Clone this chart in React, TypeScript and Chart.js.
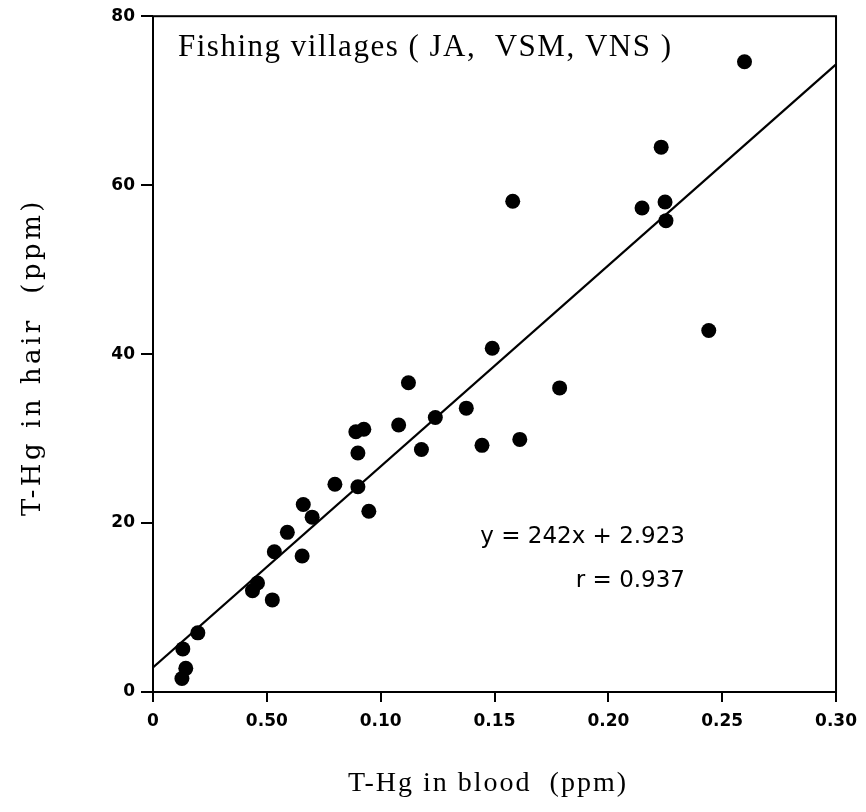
import React, { useEffect, useRef } from "react";
import { Chart, registerables } from "chart.js";

Chart.register(...registerables);

// T-Hg in blood (ppm) for each subject
const bloodHg = [
  0.0127, 0.0144, 0.0131, 0.0197, 0.0437, 0.0459, 0.0524, 0.0533, 0.059, 0.0655,
  0.066, 0.0699, 0.0799, 0.0891, 0.0926, 0.09, 0.09, 0.0948, 0.1079, 0.1122,
  0.1179, 0.124, 0.1376, 0.1445, 0.149, 0.158, 0.1611, 0.1786, 0.2148, 0.2232,
  0.2249, 0.2253, 0.2441, 0.2598,
];
// T-Hg in hair (ppm) for each subject
const hairHg = [
  1.6, 2.8, 5.1, 7.0, 12.0, 12.9, 10.9, 16.6, 18.9, 16.1,
  22.2, 20.7, 24.6, 30.8, 31.1, 28.3, 24.3, 21.4, 31.6, 36.6,
  28.7, 32.5, 33.6, 29.2, 40.7, 58.1, 29.9, 36.0, 57.3, 64.5,
  58.0, 55.8, 42.8, 74.6,
];
// regression line end points as drawn
const fitX = [0, 0.3];
const fitY = [2.9, 74.3];

const xTickLabels = ["0", "0.50", "0.10", "0.15", "0.20", "0.25", "0.30"];
const yTickStep = 20;

const panelLabel = "Fishing villages ( JA,  VSM, VNS )";
const eqLabel = "y = 242x + 2.923";
const rLabel = "r = 0.937";
const xTitle = "T-Hg in blood  (ppm)";
const yTitle = "T-Hg in hair  (ppm)";

const textPlugin = {
  id: "annotText",
  afterDraw(chart: any) {
    const { ctx, chartArea } = chart;
    const { left, top, right, bottom } = chartArea;
    ctx.save();
    // frame
    ctx.strokeStyle = "#000";
    ctx.lineWidth = 2;
    ctx.strokeRect(left, top, right - left, bottom - top);

    ctx.fillStyle = "#000";
    // panel label
    ctx.font = "31px 'Liberation Serif'";
    ctx.textAlign = "left";
    ctx.textBaseline = "alphabetic";
    (ctx as any).letterSpacing = "1.5px";
    ctx.fillText(panelLabel, left + 25, top + 40);

    // equation
    ctx.font = "23px 'DejaVu Sans'";
    (ctx as any).letterSpacing = "0px";
    ctx.textAlign = "right";
    ctx.fillText(eqLabel, left + 532, top + 527);
    ctx.fillText(rLabel, left + 532, top + 571);

    // x title
    ctx.font = "28px 'Liberation Serif'";
    (ctx as any).letterSpacing = "2px";
    ctx.textAlign = "center";
    ctx.fillText(xTitle, 488, 791);

    // y title
    ctx.save();
    ctx.translate(40, 357);
    ctx.rotate(-Math.PI / 2);
    ctx.font = "26px 'DejaVu Serif'";
    (ctx as any).letterSpacing = "3.5px";
    ctx.textAlign = "center";
    ctx.fillText(yTitle, 0, 0);
    ctx.restore();

    ctx.restore();
  },
};

export default function App() {
  const canvasRef = useRef<HTMLCanvasElement | null>(null);

  useEffect(() => {
    if (!canvasRef.current) return;
    const points = bloodHg.map((x, i) => ({ x, y: hairHg[i] }));
    const fit = fitX.map((x, i) => ({ x, y: fitY[i] }));
    const tickFont = { family: "'DejaVu Sans'", size: 17, weight: "bold" as const };
    const chart = new Chart(canvasRef.current, {
      type: "scatter",
      data: {
        datasets: [
          {
            data: fit,
            showLine: true,
            borderColor: "#000",
            borderWidth: 2.2,
            pointRadius: 0,
            fill: false,
          } as any,
          {
            data: points,
            backgroundColor: "#000",
            borderColor: "#000",
            pointRadius: 7.5,
            pointHoverRadius: 7.5,
            borderWidth: 0,
          },
        ],
      },
      options: {
        responsive: false,
        animation: false,
        events: [],
        layout: { padding: { top: 16, right: 28, left: 0, bottom: 0 } },
        plugins: {
          legend: { display: false },
          tooltip: { enabled: false },
        },
        scales: {
          x: {
            type: "linear",
            min: 0,
            max: 0.3,
            afterFit: (s: any) => {
              s.height = 120;
            },
            border: { display: false },
            grid: {
              drawOnChartArea: false,
              drawTicks: true,
              tickLength: 10,
              color: "#000",
              lineWidth: 2,
            },
            ticks: {
              stepSize: 0.05,
              color: "#000",
              font: tickFont,
              padding: 9,
              maxRotation: 0,
              autoSkip: false,
              callback: (_v: any, i: number) => xTickLabels[i],
            },
          },
          y: {
            type: "linear",
            min: 0,
            max: 80,
            afterFit: (s: any) => {
              s.width = 153;
            },
            border: { display: false },
            grid: {
              drawOnChartArea: false,
              drawTicks: true,
              tickLength: 12,
              color: "#000",
              lineWidth: 2,
            },
            ticks: {
              stepSize: yTickStep,
              color: "#000",
              font: tickFont,
              padding: 6,
            },
          },
        },
      },
      plugins: [textPlugin],
    });
    return () => chart.destroy();
  }, []);

  return (
    <div style={{ position: "absolute", left: 0, top: 0, width: 866, height: 812, background: "#fff" }}>
      <canvas ref={canvasRef} width={866} height={812} />
    </div>
  );
}
